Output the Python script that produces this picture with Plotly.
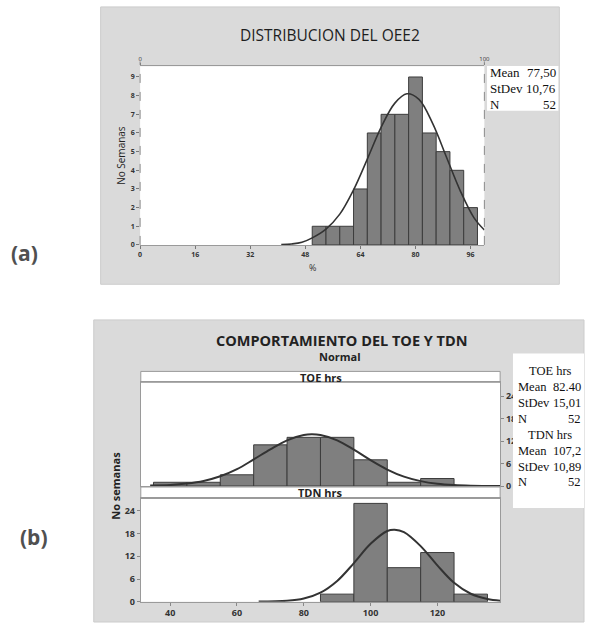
import plotly.graph_objects as go

W, H = 590, 628


def fx(p):
    return p / W


def fy(p):
    return 1 - p / H


# ---------------- Panel (a): DISTRIBUCION DEL OEE2 ----------------
a_bin_left = [50, 54, 58, 62, 66, 70, 74, 78, 82, 86, 90, 94]
a_counts = [1, 1, 1, 3, 6, 7, 7, 9, 6, 5, 4, 2]
a_bin_width = 4
a_curve_x = [41, 44, 47, 50, 54, 58, 62, 66, 70, 74, 77.5, 81, 85, 89, 93, 97, 100]
a_curve_y = [0.02, 0.05, 0.14, 0.38, 0.85, 1.65, 2.95, 4.6, 6.3, 7.6, 8.1, 7.8, 6.5, 4.7, 2.9, 1.45, 0.8]
a_xticks = [0, 16, 32, 48, 64, 80, 96]
a_top_ticks = [0, 100]
a_yticks = [0, 1, 2, 3, 4, 5, 6, 7, 8, 9]
a_stats = [("Mean", "77,50"), ("StDev", "10,76"), ("N", "52")]

# ---------------- Panel (b): COMPORTAMIENTO DEL TOE Y TDN ----------------
toe_bin_left = [35, 45, 55, 65, 75, 85, 95, 105, 115]
toe_counts = [1, 1, 3, 11, 13, 13, 7, 1, 2]
tdn_bin_left = [85, 95, 105, 115, 125]
tdn_counts = [2, 26, 9, 13, 2]
b_bin_width = 10
toe_curve_x = [34, 40, 45, 50, 55, 60, 65, 70, 75, 80, 82.4, 85, 90, 95, 100, 105, 110, 115, 120, 125, 130, 138.8]
toe_curve_y = [0.15, 0.26, 0.65, 1.35, 2.6, 4.5, 7.1, 9.8, 12.2, 13.6, 13.8, 13.6, 12.2, 9.7, 6.9, 4.4, 2.5, 1.3, 0.6, 0.25, 0.09, 0.01]
tdn_curve_x = [66.5, 75, 80, 85, 90, 95, 100, 105, 107.2, 110, 115, 120, 125, 130, 135, 138.8]
tdn_curve_y = [0.02, 0.24, 0.84, 2.4, 5.5, 10.2, 15.3, 18.7, 19.05, 18.4, 14.7, 9.6, 5.0, 2.1, 0.73, 0.28]
b_xticks = [40, 60, 80, 100, 120]
b_yticks = [0, 6, 12, 18, 24]
toe_stats = [("Mean", "82.40"), ("StDev", "15,01"), ("N", "52")]
tdn_stats = [("Mean", "107,2"), ("StDev", "10,89"), ("N", "52")]

BAR_FILL = "#7f7f7f"
BAR_LINE = "#3c3c3c"
CURVE = "#333333"
PANEL_BG = "#dadada"

fig = go.Figure()

# Panel (a) traces
fig.add_trace(go.Bar(x=a_bin_left, y=a_counts, width=a_bin_width, offset=0,
                     marker=dict(color=BAR_FILL, line=dict(color=BAR_LINE, width=1)),
                     xaxis="x", yaxis="y", hoverinfo="skip"))
fig.add_trace(go.Scatter(x=a_curve_x, y=a_curve_y, mode="lines",
                         line=dict(color=CURVE, width=1.6, shape="spline", smoothing=1.0),
                         xaxis="x", yaxis="y", hoverinfo="skip"))
fig.add_trace(go.Scatter(x=a_top_ticks, y=[0, 0], mode="markers", marker=dict(opacity=0),
                         xaxis="x4", yaxis="y", hoverinfo="skip"))

# Panel (b) traces
fig.add_trace(go.Bar(x=toe_bin_left, y=toe_counts, width=b_bin_width, offset=0,
                     marker=dict(color=BAR_FILL, line=dict(color=BAR_LINE, width=1)),
                     xaxis="x2", yaxis="y2", hoverinfo="skip"))
fig.add_trace(go.Scatter(x=toe_curve_x, y=toe_curve_y, mode="lines",
                         line=dict(color=CURVE, width=2, shape="spline", smoothing=1.0),
                         xaxis="x2", yaxis="y2", hoverinfo="skip"))
fig.add_trace(go.Bar(x=tdn_bin_left, y=tdn_counts, width=b_bin_width, offset=0,
                     marker=dict(color=BAR_FILL, line=dict(color=BAR_LINE, width=1)),
                     xaxis="x3", yaxis="y3", hoverinfo="skip"))
fig.add_trace(go.Scatter(x=tdn_curve_x, y=tdn_curve_y, mode="lines",
                         line=dict(color=CURVE, width=2, shape="spline", smoothing=1.0),
                         xaxis="x3", yaxis="y3", hoverinfo="skip"))

small_a = dict(family="Open Sans", size=7, color="#333333", weight="bold")
tick_b = dict(family="Open Sans", size=9, color="#333333", weight="bold")

a_xdom = [fx(140), fx(489)]
a_ydom = [fy(247.3), fy(67)]
b_xdom = [fx(140.7), fx(505)]
toe_ydom = [fy(490.7), fy(386)]
tdn_ydom = [fy(607.5), fy(503.3)]

fig.update_layout(
    width=W, height=H,
    margin=dict(l=0, r=0, t=0, b=0),
    paper_bgcolor="white", plot_bgcolor="rgba(0,0,0,0)",
    showlegend=False,
    xaxis=dict(domain=a_xdom, range=[0, 100], anchor="y", tickvals=a_xticks,
               ticks="outside", ticklen=3, tickcolor="#777", tickfont=small_a,
               showline=True, mirror=True, linecolor="#9a9a9a", showgrid=False, zeroline=False),
    xaxis4=dict(overlaying="x", side="top", anchor="y", range=[0, 100], tickvals=a_top_ticks,
                ticks="outside", ticklen=2, tickcolor="#777", tickfont=dict(family="Open Sans", size=6, color="#333"),
                showline=False, showgrid=False, zeroline=False),
    yaxis=dict(domain=a_ydom, range=[0, 9.57], anchor="x", tickvals=a_yticks,
               ticks="outside", ticklen=3, tickcolor="#777", tickfont=small_a,
               showline=False, showgrid=False, zeroline=False),
    xaxis2=dict(domain=b_xdom, range=[31.2, 138.8], anchor="y2", tickvals=b_xticks,
                showticklabels=False, ticks="", showline=True, mirror=True, linecolor="#9a9a9a",
                showgrid=False, zeroline=False),
    yaxis2=dict(domain=toe_ydom, range=[0, 27.7], anchor="x2", side="right", tickvals=b_yticks,
                ticks="outside", ticklen=3, tickcolor="#888", tickfont=tick_b,
                showline=True, mirror=True, linecolor="#9a9a9a", showgrid=False, zeroline=False),
    xaxis3=dict(domain=b_xdom, range=[31.2, 138.8], anchor="y3", tickvals=b_xticks,
                ticks="outside", ticklen=3, tickcolor="#888", tickfont=tick_b,
                showline=True, mirror=True, linecolor="#9a9a9a", showgrid=False, zeroline=False),
    yaxis3=dict(domain=tdn_ydom, range=[0, 27.3], anchor="x3", tickvals=b_yticks,
                ticks="outside", ticklen=3, tickcolor="#888", tickfont=tick_b,
                showline=True, mirror=True, linecolor="#9a9a9a", showgrid=False, zeroline=False),
)

shapes = []
# gray panels
shapes.append(dict(type="rect", xref="paper", yref="paper", x0=fx(100), x1=fx(565), y0=fy(287), y1=fy(7),
                   fillcolor=PANEL_BG, line=dict(color="#cccccc", width=1), layer="below"))
shapes.append(dict(type="rect", xref="paper", yref="paper", x0=fx(93), x1=1.0, y0=0, y1=fy(323),
                   fillcolor=PANEL_BG, line=dict(color="#cccccc", width=1), layer="below"))
# white plot areas
for x0, x1, y0, y1 in [(140, 489, 247.3, 67), (140.7, 505, 490.7, 386), (140.7, 505, 607.5, 503.3)]:
    shapes.append(dict(type="rect", xref="paper", yref="paper", x0=fx(x0), x1=fx(x1), y0=fy(y0), y1=fy(y1),
                       fillcolor="white", line=dict(width=0), layer="below"))
# dashed verticals panel (a)
for xp in (140, 489):
    shapes.append(dict(type="line", xref="paper", yref="paper", x0=fx(xp), x1=fx(xp), y0=fy(247.3), y1=fy(62),
                       line=dict(color="#8a8a8a", width=1, dash="dash"), layer="above"))
# strips panel (b)
for y0, y1 in [(386, 375), (503.3, 491.7)]:
    shapes.append(dict(type="rect", xref="paper", yref="paper", x0=fx(140.7), x1=fx(505), y0=fy(y0), y1=fy(y1),
                       fillcolor="white", line=dict(color="#9a9a9a", width=1), layer="below"))
# stats boxes
shapes.append(dict(type="rect", xref="paper", yref="paper", x0=fx(491.7), x1=fx(564), y0=fy(111.7), y1=fy(66.7),
                   fillcolor="white", line=dict(width=0), layer="below"))
shapes.append(dict(type="rect", xref="paper", yref="paper", x0=fx(518), x1=1.0, y0=fy(513), y1=fy(357),
                   fillcolor="white", line=dict(width=0), layer="above"))
fig.update_layout(shapes=shapes)

ann = []


def text(x, y, s, size, color="#222222", family="Open Sans", weight="normal", xanchor="center", angle=0):
    ann.append(dict(x=fx(x), y=fy(y), xref="paper", yref="paper", text=s, showarrow=False,
                    xanchor=xanchor, yanchor="middle", textangle=angle,
                    font=dict(family=family, size=size, color=color, weight=weight)))


# panel labels
text(23, 255, "(a)", 21, color="#505050", weight="bold")
text(32, 542, "(b)", 21, color="#505050", weight="bold")

# panel (a) texts
text(333, 35, "DISTRIBUCION DEL OEE2", 15.5, color="#1e1e1e", weight="normal")
text(120, 157, "No Semanas", 10, color="#222222", angle=-90)
text(315, 270, "%", 9, color="#333333")
for i, (lab, val) in enumerate(a_stats):
    yy = 72.7 + 16.2 * i
    text(493, yy, lab, 13, color="#111111", family="Liberation Serif", xanchor="left")
    text(563.5, yy, val, 13, color="#111111", family="Liberation Serif", xanchor="right")

# panel (b) texts
text(345, 344, "COMPORTAMIENTO DEL TOE Y TDN", 14.5, color="#222222", weight="bold")
text(343, 360, "Normal", 11, color="#222222", weight="bold")
text(323, 381, "TOE hrs", 11, color="#222222", weight="bold")
text(323, 497.5, "TDN hrs", 11, color="#222222", weight="bold")
text(115, 490, "No semanas", 11, color="#222222", weight="bold", angle=-90)

SB = 12.5
text(556, 375, "TOE hrs", SB, color="#111111", family="Liberation Serif")
for i, (lab, val) in enumerate(toe_stats):
    yy = 391 + 16 * i
    text(521, yy, lab, SB, color="#111111", family="Liberation Serif", xanchor="left")
    text(589, yy, val, SB, color="#111111", family="Liberation Serif", xanchor="right")
text(556, 439, "TDN hrs", SB, color="#111111", family="Liberation Serif")
for i, (lab, val) in enumerate(tdn_stats):
    yy = 455 + 16 * i
    text(521, yy, lab, SB, color="#111111", family="Liberation Serif", xanchor="left")
    text(589, yy, val, SB, color="#111111", family="Liberation Serif", xanchor="right")

fig.update_layout(annotations=ann)

fig.write_html("out.html", config={"displayModeBar": False},
               post_script="document.body.style.margin='0';document.body.style.overflow='hidden';")
